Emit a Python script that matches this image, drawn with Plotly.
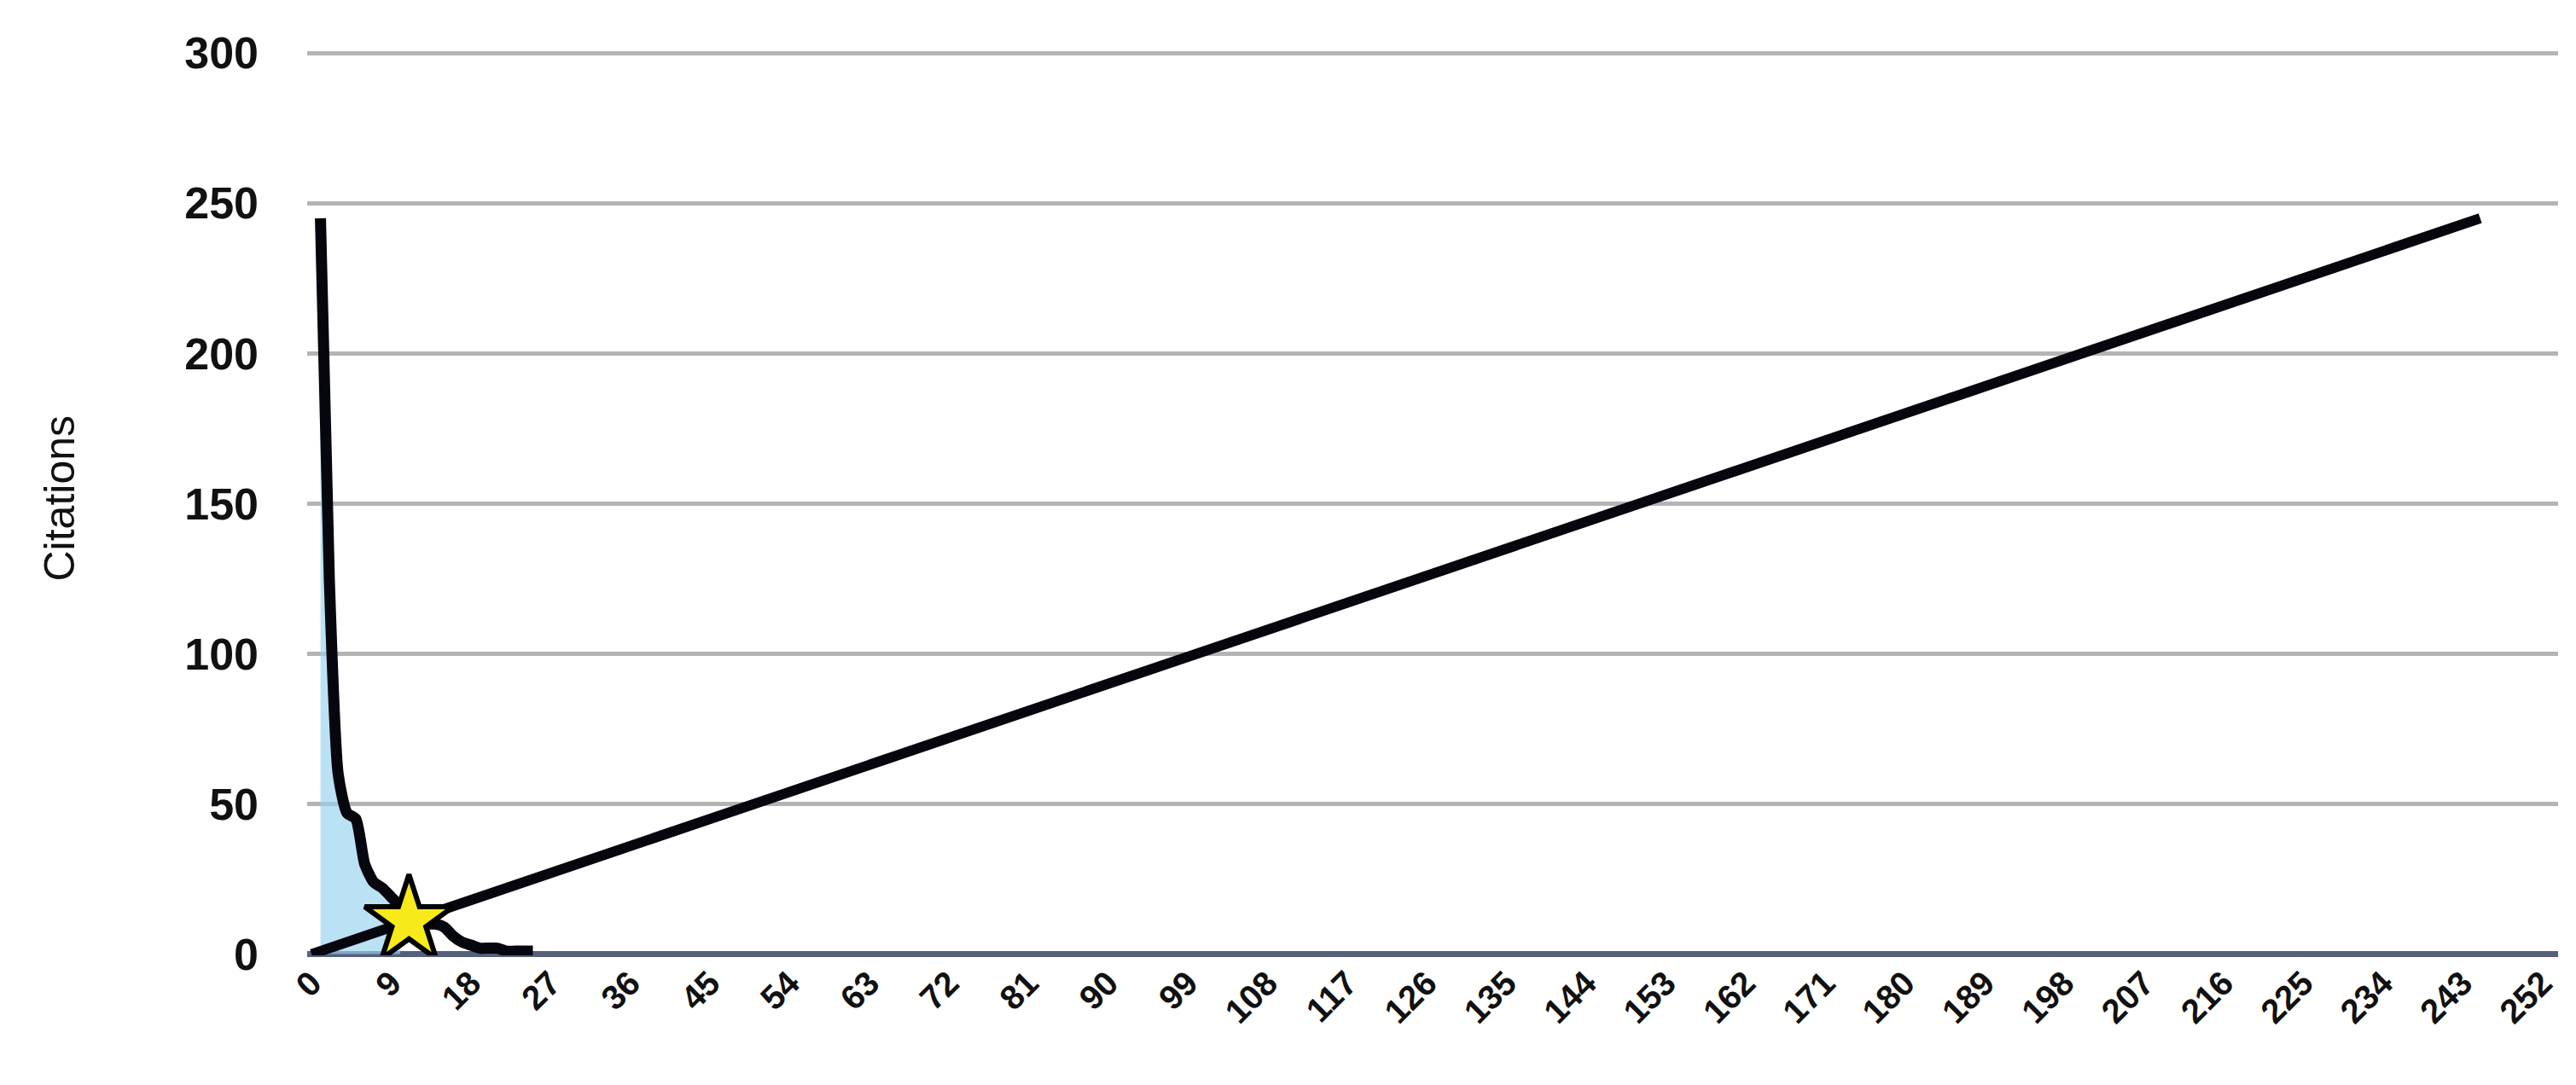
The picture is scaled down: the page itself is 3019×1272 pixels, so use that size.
import plotly.graph_objects as go

# h-index plot: citations per paper (ranked) vs the y = x line
paper_rank = list(range(1, 26))
citations = [245, 125, 60, 47, 45, 30, 24, 22, 19, 16, 12, 11, 10, 10, 9,
             6, 4, 3, 2, 2, 2, 1, 1, 1, 1]

diag_x = [0, 245]
diag_y = [0, 245]

h_index = 11
core_n = 10  # shaded h-core papers

x_ticks = list(range(0, 253, 9))
y_ticks = [0, 50, 100, 150, 200, 250, 300]

FONT = "Liberation Sans, Arial, sans-serif"

fig = go.Figure()

# shaded area under the h-core part of the curve
fig.add_trace(go.Scatter(
    x=paper_rank[:core_n], y=citations[:core_n],
    mode="lines", line=dict(width=0, shape="spline", smoothing=0.6),
    fill="tozeroy", fillcolor="rgba(150,210,238,0.65)",
    hoverinfo="skip", showlegend=False,
))

fig.add_trace(go.Scatter(
    x=diag_x, y=diag_y, mode="lines",
    line=dict(color="#06060e", width=12),
    showlegend=False,
))

fig.add_trace(go.Scatter(
    x=paper_rank, y=citations, mode="lines",
    line=dict(color="#06060e", width=13, shape="spline", smoothing=0.6),
    showlegend=False,
))

fig.add_trace(go.Scatter(
    x=[h_index], y=[h_index], mode="markers",
    marker=dict(symbol="star", size=78, color="#f7ea1a",
                line=dict(color="#000000", width=6)),
    showlegend=False,
))

fig.add_annotation(
    text="Citations", xref="paper", yref="paper", x=-0.11, y=0.505,
    xanchor="center", yanchor="middle", textangle=-90, showarrow=False,
    font=dict(family=FONT, size=50, color="#111111"),
)

fig.update_layout(
    width=3019, height=1272,
    paper_bgcolor="white", plot_bgcolor="white",
    margin=dict(l=352, r=29, t=50, b=160),
    font=dict(family=FONT, color="#111111"),
    showlegend=False,
    xaxis=dict(
        range=[-0.5, 253.8], tickmode="array", tickvals=x_ticks,
        tickangle=-45, showgrid=False, zeroline=False, showline=False,
        tickfont=dict(family=FONT, size=40, color="#111111", weight="bold"),
        ticklabelstandoff=0,
    ),
    yaxis=dict(
        range=[-0.4, 301.2], tickmode="array", tickvals=y_ticks,
        showgrid=True, gridcolor="#b4b4b4", gridwidth=5,
        zeroline=True, zerolinecolor="#55607d", zerolinewidth=7,
        tickfont=dict(family=FONT, size=52, color="#111111", weight="bold"),
        ticklabelstandoff=56, layer="below traces",
    ),
)

fig.write_html("out.html")
